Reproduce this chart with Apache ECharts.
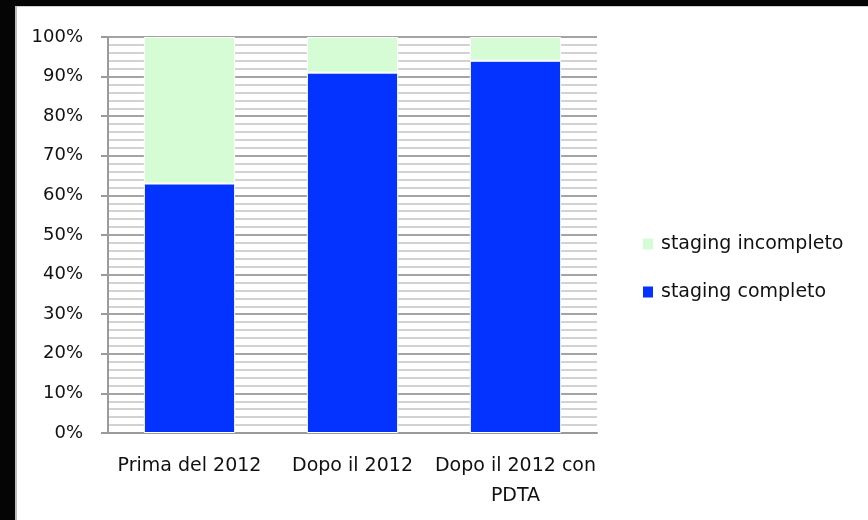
<!DOCTYPE html>
<html>
<head>
<meta charset="utf-8">
<title>Staging</title>
<script src="https://cdn.jsdelivr.net/npm/echarts@6/dist/echarts.min.js"></script>
<style>
  html, body { margin: 0; padding: 0; background: #ffffff; }
  #chart { width: 868px; height: 520px; }
</style>
</head>
<body>
<div id="chart"></div>
<script>
// Categories along the x axis
const categories = ['Prima del 2012', 'Dopo il 2012', 'Dopo il 2012 con\nPDTA'];

// Share of patients (%) per period
const stagingCompleto = [63, 91, 94];
const stagingIncompleto = [37, 9, 6];

// Y axis: 0% .. 100%, step 10
const yMin = 0;
const yMax = 100;
const yStep = 10;

const FONT = 'DejaVu Sans';

const chart = echarts.init(document.getElementById('chart'), null, { renderer: 'canvas' });

chart.setOption({
  backgroundColor: '#ffffff',
  animation: false,
  textStyle: { fontFamily: FONT },
  graphic: [
    // dark frame along the top and left edges
    { type: 'rect', left: 0, top: 0, shape: { width: 868, height: 6 }, style: { fill: '#050505' }, silent: true },
    { type: 'rect', left: 0, top: 6, shape: { width: 868, height: 1 }, style: { fill: '#d0d0d0' }, silent: true },
    { type: 'rect', left: 0, top: 0, shape: { width: 15, height: 520 }, style: { fill: '#050505' }, silent: true },
    { type: 'rect', left: 15, top: 6, shape: { width: 2, height: 514 }, style: { fill: '#bdbdbd' }, silent: true }
  ],
  grid: { left: 108, right: 271, top: 37, bottom: 87, containLabel: false },
  legend: {
    orient: 'vertical',
    left: 643,
    top: 234,
    padding: 0,
    itemWidth: 10,
    itemHeight: 11,
    itemGap: 28,
    icon: 'rect',
    itemStyle: { borderWidth: 0 },
    data: ['staging incompleto', 'staging completo'],
    textStyle: { fontFamily: FONT, fontSize: 19, color: '#111111', lineHeight: 20, padding: [0, 0, 0, 3] }
  },
  xAxis: {
    type: 'category',
    data: categories,
    axisLine: { show: true, lineStyle: { color: '#9a9a9a', width: 2 } },
    axisTick: { show: false },
    splitLine: { show: false },
    axisLabel: {
      fontFamily: FONT,
      fontSize: 19,
      color: '#111111',
      lineHeight: 30,
      margin: 18,
      interval: 0
    }
  },
  yAxis: {
    type: 'value',
    min: yMin,
    max: yMax,
    interval: yStep,
    axisLine: { show: true, lineStyle: { color: '#9a9a9a', width: 2 } },
    axisTick: { show: true, length: 7, lineStyle: { color: '#9a9a9a', width: 2 } },
    axisLabel: {
      fontFamily: FONT,
      fontSize: 18,
      color: '#111111',
      margin: 25,
      formatter: '{value}%'
    },
    splitLine: { show: true, lineStyle: { color: '#a4a4a4', width: 2 } },
    minorTick: { show: false, splitNumber: 5 },
    minorSplitLine: { show: true, lineStyle: { color: '#d2d2d2', width: 2 } }
  },
  series: [
    {
      name: 'staging completo',
      type: 'bar',
      stack: 'tot',
      data: stagingCompleto,
      barWidth: '56%',
      itemStyle: { color: '#0433ff', borderColor: '#ffffff', borderWidth: 1 }
    },
    {
      name: 'staging incompleto',
      type: 'bar',
      stack: 'tot',
      data: stagingIncompleto,
      barWidth: '56%',
      itemStyle: { color: '#d6fcd6', borderColor: '#ffffff', borderWidth: 1 }
    }
  ]
});
</script>
</body>
</html>
